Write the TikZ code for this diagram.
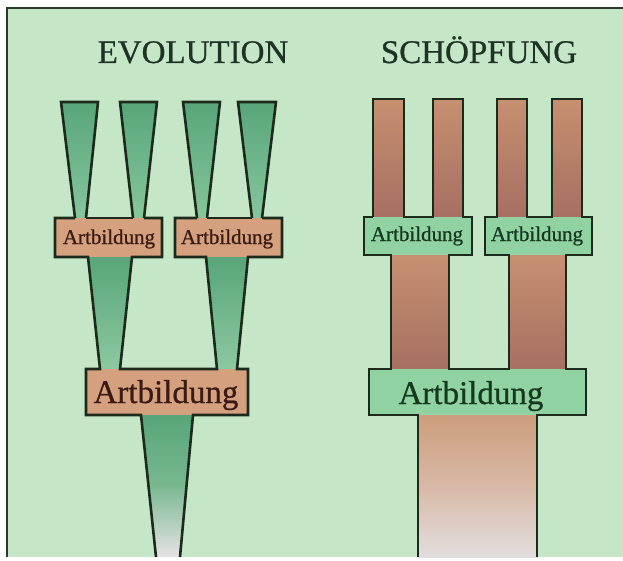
\documentclass[tikz,border=0pt]{standalone}
\usepackage{fontspec}
\setmainfont{Liberation Serif}
\newfontfamily\heavyserif[FakeBold=0.7]{Liberation Serif}
\definecolor{bg}{HTML}{C6E6C8}
\definecolor{frame}{HTML}{2A3A2A}
\definecolor{outl}{HTML}{1C2A1C}
\definecolor{gtop}{HTML}{58A57A}
\definecolor{gbot}{HTML}{86C69C}
\definecolor{glow}{HTML}{8CC8A0}
\definecolor{gmid}{HTML}{78B890}
\definecolor{fade}{HTML}{E6E2E4}
\definecolor{ebox}{HTML}{D4A07E}
\definecolor{ctop}{HTML}{C79070}
\definecolor{cbot}{HTML}{A66F62}
\definecolor{btop}{HTML}{CC9E7C}
\definecolor{bmid}{HTML}{D8B8A6}
\definecolor{bbot}{HTML}{E2DEDE}
\definecolor{sbox}{HTML}{90D2A2}
\definecolor{titlec}{HTML}{1E3324}
\definecolor{etext}{HTML}{3A1A12}
\definecolor{stext}{HTML}{143820}
\begin{document}
\begin{tikzpicture}[x=1pt,y=-1pt,
  outline/.style={draw=outl,line width=2.6pt,line join=miter},
  title/.style={anchor=base,text=titlec,font=\heavyserif\fontsize{33}{33}\selectfont,inner sep=0},
  smalltxt/.style={anchor=base,font=\heavyserif\fontsize{21}{21}\selectfont,inner sep=0},
  bigtxt/.style={anchor=base,font=\heavyserif\fontsize{33}{33}\selectfont,inner sep=0},
  gfun/.style={top color=gtop,bottom color=gbot},
  gfunlow/.style={top color=gtop,bottom color=glow},
  col/.style={top color=ctop,bottom color=cbot}]
\useasboundingbox (0,0) rectangle (623,561);
\fill[white] (0,0) rectangle (623,561);
\fill[bg] (7,8) rectangle (623,557);
\draw[frame,line width=2.6pt] (7,557) -- (7,8) -- (623,8);

% titles
\node[title] (evo) at (193,63) {EVOLUTION};
\node[title] (sch) at (479,63) {SCHÖPFUNG};

% ===== EVOLUTION =====
\path[gfun] (61,102) -- (98,102) -- (86,218) -- (75,218) -- cycle;
\path[gfun] (120,102) -- (157,102) -- (144,218) -- (133,218) -- cycle;
\path[gfun] (183,102) -- (220,102) -- (207,218) -- (197,218) -- cycle;
\path[gfun] (238,102) -- (276,102) -- (262,218) -- (252,218) -- cycle;
\path[gfunlow] (88,257) -- (132,257) -- (120,369) -- (100,369) -- cycle;
\path[gfunlow] (206,257) -- (248,257) -- (237,369) -- (217,369) -- cycle;
\path[top color=gtop,bottom color=gmid] (141,415) -- (193,415) -- (186.5,485) -- (147.5,485) -- cycle;
\path[top color=gmid,bottom color=fade] (147.4,484.5) -- (186.6,484.5) -- (180,557) -- (156,557) -- cycle;
\fill[ebox] (55,218) rectangle (162,257);
\fill[ebox] (175,218) rectangle (282,257);
\fill[ebox] (86,369) rectangle (248,415);

\draw[outline] (75,218) -- (61,102) -- (98,102) -- (86,218);
\draw[outline] (133,218) -- (120,102) -- (157,102) -- (144,218);
\draw[outline] (197,218) -- (183,102) -- (220,102) -- (207,218);
\draw[outline] (252,218) -- (238,102) -- (276,102) -- (262,218);
\draw[outline] (75,218) -- (55,218) -- (55,257) -- (88,257) -- (100,369) -- (86,369) -- (86,415) -- (141,415) -- (156,557);
\draw[outline] (86,218) -- (133,218);
\draw[outline] (144,218) -- (162,218) -- (162,257) -- (132,257) -- (120,369) -- (217,369) -- (206,257) -- (175,257) -- (175,218) -- (197,218);
\draw[outline] (207,218) -- (252,218);
\draw[outline] (262,218) -- (282,218) -- (282,257) -- (248,257) -- (237,369) -- (248,369) -- (248,415) -- (193,415) -- (180,557);

\node[smalltxt,text=etext] (ea) at (109,244) {Artbildung};
\node[smalltxt,text=etext] (eb) at (227,244) {Artbildung};
\node[bigtxt,text=etext] (ec) at (166,403) {Artbildung};

% ===== SCHOEPFUNG =====
\path[col] (373,99) rectangle (404,217);
\path[col] (433,99) rectangle (463,217);
\path[col] (497,99) rectangle (527,217);
\path[col] (552,99) rectangle (582,217);
\path[col] (391,255) rectangle (449,369);
\path[col] (509,255) rectangle (566,369);
\path[top color=btop,bottom color=bmid] (418,415) rectangle (537,486);
\path[top color=bmid,bottom color=bbot] (418,485.5) rectangle (537,557);
\fill[sbox] (364,217) rectangle (472,255);
\fill[sbox] (485,217) rectangle (592,255);
\fill[sbox] (369,369) rectangle (586,415);

\draw[outline] (373,217) -- (373,99) -- (404,99) -- (404,217) -- (433,217) -- (433,99) -- (463,99) -- (463,217) -- (472,217) -- (472,255) -- (449,255) -- (449,369) -- (509,369) -- (509,255) -- (485,255) -- (485,217) -- (497,217) -- (497,99) -- (527,99) -- (527,217) -- (552,217) -- (552,99) -- (582,99) -- (582,217) -- (592,217) -- (592,255) -- (566,255) -- (566,369) -- (586,369) -- (586,415) -- (537,415) -- (537,557);
\draw[outline] (373,217) -- (364,217) -- (364,255) -- (391,255) -- (391,369) -- (369,369) -- (369,415) -- (418,415) -- (418,557);

\node[smalltxt,text=stext] (sa) at (417,241) {Artbildung};
\node[smalltxt,text=stext] (sb) at (537,241) {Artbildung};
\node[bigtxt,text=stext] (sc) at (471,404) {Artbildung};
\end{tikzpicture}
\end{document}
